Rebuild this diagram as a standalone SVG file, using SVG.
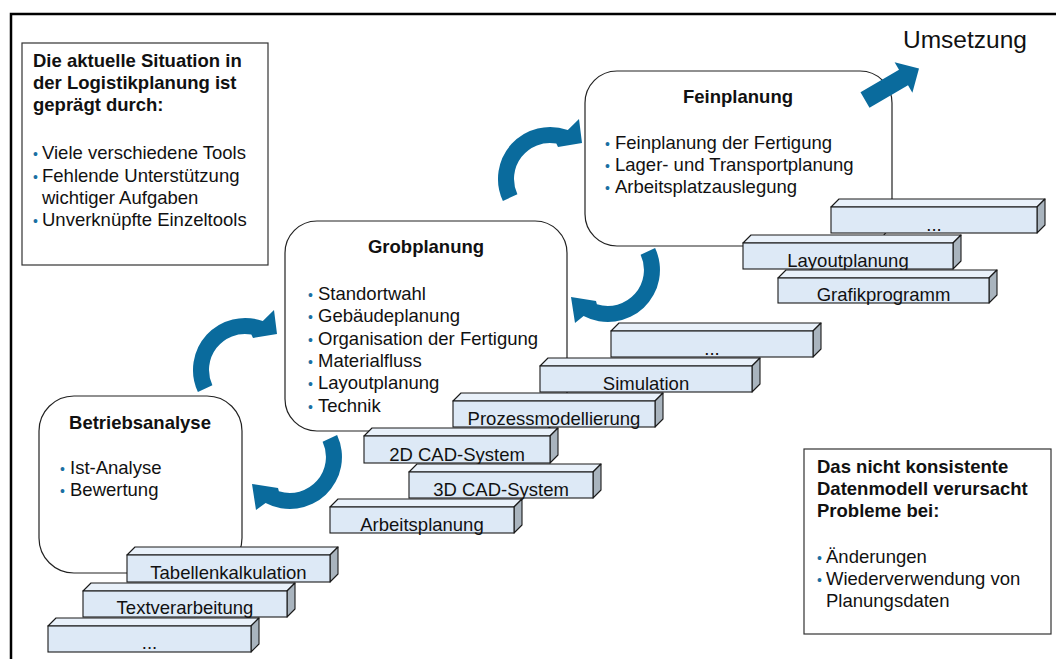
<svg xmlns="http://www.w3.org/2000/svg" width="1056" height="659" viewBox="0 0 1056 659">
  <style>
    text { font-family: "Liberation Sans", Arial, Helvetica, sans-serif; font-size: 18.5px; fill: #111; }
    .h { font-weight: bold; }
    .c { text-anchor: middle; }
    .b { fill: #1a6fa3; font-size: 14px; }
    .big { font-size: 24.5px; }
    .info { fill: #fff; stroke: #333; stroke-width: 1.2; }
    .phase { fill: #fff; stroke: #222; stroke-width: 1.2; }
    .front { fill: #dde9f6; stroke: #1a1a1a; stroke-width: 1.1; }
    .top { fill: #e9f1fa; stroke: #1a1a1a; stroke-width: 1.1; stroke-linejoin: round; }
    .side { fill: #a9b4be; stroke: #1a1a1a; stroke-width: 1.1; stroke-linejoin: round; }
    .flow { fill: #0a6b9d; }
  </style>

  <!-- frame -->
  <path d="M11,659 V14 H1056" fill="none" stroke="#000" stroke-width="2.5"/>

  <!-- info box: current situation -->
  <g id="situation">
    <rect class="info" x="22" y="43" width="246" height="222"/>
    <text class="h" x="33" y="67">Die aktuelle Situation in</text>
    <text class="h" x="33" y="89">der Logistikplanung ist</text>
    <text class="h" x="33" y="111">geprägt durch:</text>
    <text x="33" y="159"><tspan class="b">•</tspan><tspan x="42">Viele verschiedene Tools</tspan></text>
    <text x="33" y="182"><tspan class="b">•</tspan><tspan x="42">Fehlende Unterstützung</tspan></text>
    <text x="42" y="204">wichtiger Aufgaben</text>
    <text x="33" y="226"><tspan class="b">•</tspan><tspan x="42">Unverknüpfte Einzeltools</tspan></text>
  </g>

  <!-- info box: data model -->
  <g id="datenmodell">
    <rect class="info" x="804" y="449" width="247" height="185"/>
    <text class="h" x="817" y="473">Das nicht konsistente</text>
    <text class="h" x="817" y="495">Datenmodell verursacht</text>
    <text class="h" x="817" y="517">Probleme bei:</text>
    <text x="817" y="563"><tspan class="b">•</tspan><tspan x="826">Änderungen</tspan></text>
    <text x="817" y="585"><tspan class="b">•</tspan><tspan x="826">Wiederverwendung von</tspan></text>
    <text x="826" y="607">Planungsdaten</text>
  </g>

  <!-- planning phases -->
  <g id="feinplanung">
    <rect class="phase" x="585" y="71" width="307" height="175" rx="32"/>
    <text class="h c" x="738" y="103">Feinplanung</text>
    <text x="605" y="149"><tspan class="b">•</tspan><tspan x="615">Feinplanung der Fertigung</tspan></text>
    <text x="605" y="171"><tspan class="b">•</tspan><tspan x="615">Lager- und Transportplanung</tspan></text>
    <text x="605" y="193"><tspan class="b">•</tspan><tspan x="615">Arbeitsplatzauslegung</tspan></text>
  </g>

  <g id="grobplanung">
    <rect class="phase" x="285" y="221" width="282" height="210" rx="32"/>
    <text class="h c" x="426" y="253">Grobplanung</text>
    <text x="308" y="300"><tspan class="b">•</tspan><tspan x="318">Standortwahl</tspan></text>
    <text x="308" y="322"><tspan class="b">•</tspan><tspan x="318">Gebäudeplanung</tspan></text>
    <text x="308" y="345"><tspan class="b">•</tspan><tspan x="318">Organisation der Fertigung</tspan></text>
    <text x="308" y="367"><tspan class="b">•</tspan><tspan x="318">Materialfluss</tspan></text>
    <text x="308" y="389"><tspan class="b">•</tspan><tspan x="318">Layoutplanung</tspan></text>
    <text x="308" y="412"><tspan class="b">•</tspan><tspan x="318">Technik</tspan></text>
  </g>

  <g id="betriebsanalyse">
    <rect class="phase" x="39" y="396" width="203" height="177" rx="35"/>
    <text class="h c" x="140" y="429">Betriebsanalyse</text>
    <text x="60" y="474"><tspan class="b">•</tspan><tspan x="70">Ist-Analyse</tspan></text>
    <text x="60" y="496"><tspan class="b">•</tspan><tspan x="70">Bewertung</tspan></text>
  </g>

  <!-- tool bars, right stack -->
  <g id="tool-fein-more">
    <polygon class="top" points="831,207 839,199 1045,199 1037,207"/>
    <polygon class="side" points="1037,207 1045,199 1045,225 1037,233"/>
    <rect class="front" x="831" y="207" width="206" height="26"/>
    <text class="c" x="934" y="231">...</text>
  </g>
  <g id="tool-layout">
    <polygon class="top" points="743,243 751,235 961,235 953,243"/>
    <polygon class="side" points="953,243 961,235 961,261 953,269"/>
    <rect class="front" x="743" y="243" width="210" height="26"/>
    <text class="c" x="848" y="266.5">Layoutplanung</text>
  </g>
  <g id="tool-grafik">
    <polygon class="top" points="778,278 786,270 997,270 989,278"/>
    <polygon class="side" points="989,278 997,270 997,295 989,303"/>
    <rect class="front" x="778" y="278" width="211" height="25"/>
    <text class="c" x="883.5" y="300.5">Grafikprogramm</text>
  </g>

  <!-- tool bars, middle stack -->
  <g id="tool-grob-more">
    <polygon class="top" points="611,331 619,323 821,323 813,331"/>
    <polygon class="side" points="813,331 821,323 821,349 813,357"/>
    <rect class="front" x="611" y="331" width="202" height="26"/>
    <text class="c" x="712" y="355">...</text>
  </g>
  <g id="tool-simulation">
    <polygon class="top" points="540,366 548,358 760,358 752,366"/>
    <polygon class="side" points="752,366 760,358 760,384 752,392"/>
    <rect class="front" x="540" y="366" width="212" height="26"/>
    <text class="c" x="646" y="389.5">Simulation</text>
  </g>
  <g id="tool-prozess">
    <polygon class="top" points="453,401 461,393 663,393 655,401"/>
    <polygon class="side" points="655,401 663,393 663,419 655,427"/>
    <rect class="front" x="453" y="401" width="202" height="26"/>
    <text class="c" x="554" y="424.5">Prozessmodellierung</text>
  </g>
  <g id="tool-cad2d">
    <polygon class="top" points="364,436 372,428 558,428 550,436"/>
    <polygon class="side" points="550,436 558,428 558,455 550,463"/>
    <rect class="front" x="364" y="436" width="186" height="27"/>
    <text class="c" x="457" y="460.5">2D CAD-System</text>
  </g>
  <g id="tool-cad3d">
    <polygon class="top" points="409,472 417,464 601,464 593,472"/>
    <polygon class="side" points="593,472 601,464 601,490 593,498"/>
    <rect class="front" x="409" y="472" width="184" height="26"/>
    <text class="c" x="501" y="495.5">3D CAD-System</text>
  </g>
  <g id="tool-arbeitsplanung">
    <polygon class="top" points="330,507 338,499 522,499 514,507"/>
    <polygon class="side" points="514,507 522,499 522,525 514,533"/>
    <rect class="front" x="330" y="507" width="184" height="26"/>
    <text class="c" x="422" y="530.5">Arbeitsplanung</text>
  </g>

  <!-- tool bars, left stack -->
  <g id="tool-tabellen">
    <polygon class="top" points="127,555 135,547 338,547 330,555"/>
    <polygon class="side" points="330,555 338,547 338,574 330,582"/>
    <rect class="front" x="127" y="555" width="203" height="27"/>
    <text class="c" x="228.5" y="579">Tabellenkalkulation</text>
  </g>
  <g id="tool-text">
    <polygon class="top" points="83,591 91,583 295,583 287,591"/>
    <polygon class="side" points="287,591 295,583 295,609 287,617"/>
    <rect class="front" x="83" y="591" width="204" height="26"/>
    <text class="c" x="185" y="614">Textverarbeitung</text>
  </g>
  <g id="tool-analyse-more">
    <polygon class="top" points="48,626 56,618 259,618 251,626"/>
    <polygon class="side" points="251,626 259,618 259,644 251,652"/>
    <rect class="front" x="48" y="626" width="203" height="26"/>
    <text class="c" x="149.5" y="649">...</text>
  </g>

  <!-- connectors -->
  <g id="connectors">
    <!-- Betriebsanalyse to Grobplanung -->
    <path class="flow" d="M197.9,392 A52,52 0 0 1 262.8,321.1 L274,310 L277,334 L253,338 L251.3,334.5 A36,36 0 0 0 212.4,385.2 Z"/>
    <!-- Grobplanung to Feinplanung -->
    <path class="flow" d="M502.9,201 A52,52 0 0 1 567.8,130.1 L579,119 L582,143 L558,147 L556.3,143.5 A36,36 0 0 0 517.4,194.2 Z"/>
    <!-- Feinplanung back to Grobplanung -->
    <path class="flow" d="M655.1,248 A52,52 0 0 1 583.6,315.9 L575,323 L571,297 L596,301 L596.9,304.2 A36,36 0 0 0 640.6,254.8 Z"/>
    <!-- Grobplanung back to Betriebsanalyse -->
    <path class="flow" d="M337.1,435 A52,52 0 0 1 265.6,502.9 L256,510 L252,484 L278,488 L278.9,491.2 A36,36 0 0 0 322.6,441.8 Z"/>
    <!-- towards Umsetzung -->
    <polygon class="flow" points="860.5,92.2 899,69.7 894.6,62.2 919,68.4 912.4,92.8 908,85.3 869.5,107.8"/>
  </g>

  <g id="umsetzung">
    <text class="big" x="903" y="48">Umsetzung</text>
  </g>
</svg>
